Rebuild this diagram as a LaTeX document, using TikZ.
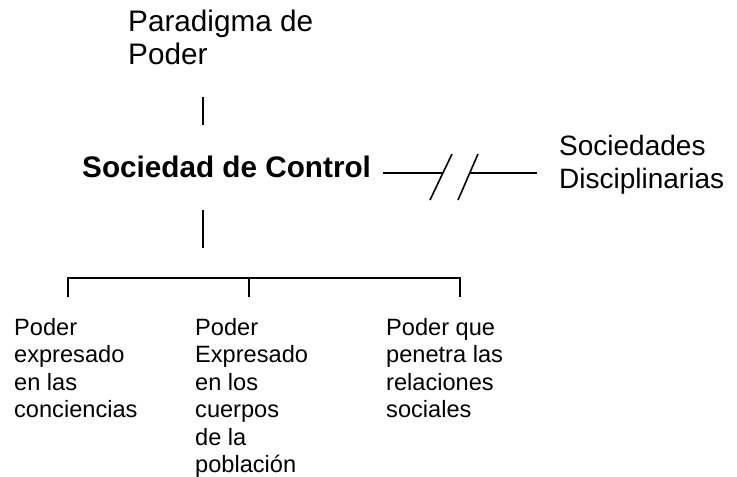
\documentclass[tikz,border=0pt]{standalone}
\usepackage{fontspec}
\setmainfont{Liberation Sans}
\begin{document}
\begin{tikzpicture}[x=1pt,y=-1pt,
  big/.style={font=\fontsize{29.7}{33}\selectfont, inner sep=0pt, anchor=base west, align=left},
  bigb/.style={font=\fontsize{29.7}{33}\selectfont\bfseries, inner sep=0pt, anchor=base west},
  small/.style={font=\fontsize{23.6}{27.5}\selectfont, inner sep=0pt, anchor=base west, align=left},
  ln/.style={line width=1.6pt}]
\useasboundingbox (0,0) rectangle (737,477);
% anchors are at the baseline of the last line
\node[big] (par) at (128,64) {Paradigma de\\Poder};
\node[bigb] (soc) at (82,177) {Sociedad de Control};
\node[big, font=\fontsize{28}{33}\selectfont] (dis) at (559,188) {Sociedades\\Disciplinarias};
\node[small] (c1) at (14,417.5) {Poder\\expresado\\en las\\conciencias};
\node[small] (c2) at (195,472.5) {Poder\\Expresado\\en los\\cuerpos\\de la\\poblaci\'on};
\node[small] (c3) at (386,417.5) {Poder que\\penetra las\\relaciones\\sociales};
% vertical connectors
\coordinate (v1a) at (203,97); \coordinate (v1b) at (203,125);
\coordinate (v2a) at (203,210); \coordinate (v2b) at (203,248);
\draw[ln] (v1a) -- (v1b);
\draw[ln] (v2a) -- (v2b);
% bracket
\coordinate (bl) at (68,278); \coordinate (bm) at (249,278); \coordinate (br) at (460,278);
\draw[ln] ([yshift=-19pt]bl) |- (br) -- ([yshift=-19pt]br);
\draw[ln] (bm) -- ([yshift=-19pt]bm);
% break line
\coordinate (h1) at (383,172.7); \coordinate (h2) at (443,172.7);
\coordinate (h3) at (470,172.7); \coordinate (h4) at (537,172.7);
\draw[ln] (h1) -- (h2);
\draw[ln] (h3) -- (h4);
\coordinate (s1a) at (430,200); \coordinate (s1b) at (452,154);
\coordinate (s2a) at (458,200); \coordinate (s2b) at (478,154);
\draw[ln] (s1a) -- (s1b);
\draw[ln] (s2a) -- (s2b);
\end{tikzpicture}
\end{document}
